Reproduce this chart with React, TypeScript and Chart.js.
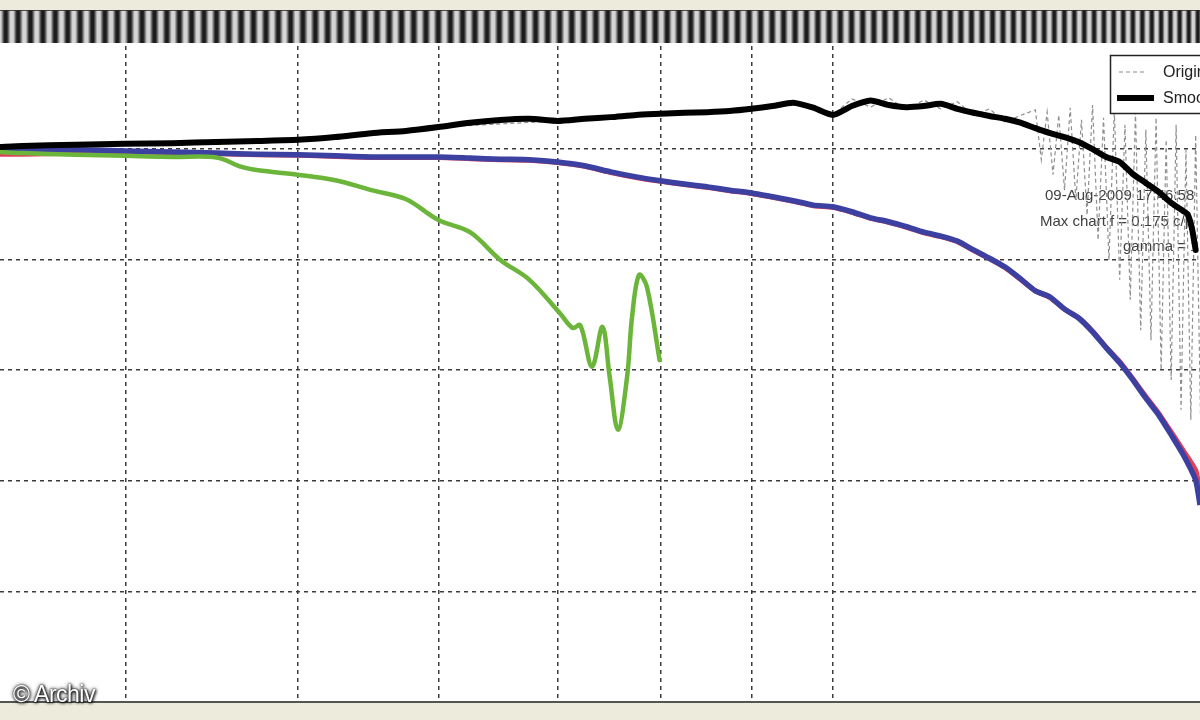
import React, { useEffect, useRef } from "react";
import { Chart, registerables } from "chart.js";

Chart.register(...registerables);

// ---- axis grid values ----
const gridFreqs = [0.04, 0.05, 0.06, 0.07, 0.08, 0.09, 0.1];
const mtfMin = 0;
const mtfMax = 1.2;
const mtfStep = 0.2;
const freqMin = 0.034;
const freqMax = 0.1609;

// ---- Smoothed (black) ----
const smoothedFreq = [
  0.034, 0.035, 0.0375, 0.04, 0.0425, 0.045, 0.0475, 0.05, 0.0525, 0.055, 0.0575, 0.06,
  0.0625, 0.065, 0.0675, 0.07, 0.0725, 0.075, 0.0775, 0.08, 0.0825, 0.085, 0.0875, 0.09,
  0.0925, 0.095, 0.0975, 0.1, 0.1025, 0.105, 0.1075, 0.11, 0.1125, 0.115, 0.1175, 0.12,
  0.1225, 0.125, 0.1275, 0.13, 0.1325, 0.135, 0.1375, 0.14, 0.1425, 0.145, 0.1475, 0.15,
  0.1525, 0.155, 0.1575, 0.1583, 0.1592, 0.16,
];
const smoothedValues = [
  1.003, 1.005, 1.007, 1.009, 1.010, 1.012, 1.014, 1.016, 1.021, 1.028, 1.032, 1.039,
  1.047, 1.052, 1.054, 1.050, 1.054, 1.057, 1.061, 1.063, 1.065, 1.066, 1.068, 1.072,
  1.077, 1.083, 1.074, 1.061, 1.077, 1.087, 1.079, 1.075, 1.077, 1.081, 1.072, 1.065,
  1.059, 1.054, 1.047, 1.037, 1.028, 1.021, 1.012, 0.999, 0.985, 0.976, 0.954, 0.938,
  0.922, 0.902, 0.887, 0.882, 0.857, 0.817,
];

// ---- Blue / red channel curves ----
const channelFreq = [
  0.034, 0.035, 0.0375, 0.04, 0.0425, 0.045, 0.0475, 0.05, 0.0525, 0.055, 0.0575, 0.06,
  0.0625, 0.065, 0.0675, 0.07, 0.0725, 0.075, 0.0775, 0.08, 0.0825, 0.085, 0.0875, 0.09,
  0.0925, 0.095, 0.0975, 0.1, 0.1025, 0.105, 0.1075, 0.11, 0.1125, 0.115, 0.1175, 0.12,
  0.1225, 0.125, 0.1275, 0.13, 0.1325, 0.135, 0.1375, 0.14, 0.1425, 0.145, 0.1475, 0.15,
  0.1525, 0.155, 0.1575, 0.16, 0.1609,
];
const blueValues = [
  0.998, 0.998, 0.998, 0.996, 0.994, 0.992, 0.990, 0.989, 0.987, 0.985, 0.985, 0.985,
  0.983, 0.981, 0.980, 0.976, 0.969, 0.958, 0.949, 0.942, 0.936, 0.931, 0.925, 0.920,
  0.913, 0.906, 0.898, 0.895, 0.886, 0.875, 0.868, 0.859, 0.849, 0.842, 0.833, 0.817,
  0.802, 0.786, 0.765, 0.743, 0.732, 0.710, 0.694, 0.669, 0.640, 0.613, 0.582, 0.549,
  0.519, 0.483, 0.446, 0.401, 0.356,
];
const redValues = [
  0.990, 0.990, 0.992, 0.994, 0.993, 0.991, 0.989, 0.988, 0.986, 0.984, 0.984, 0.984,
  0.982, 0.980, 0.979, 0.975, 0.968, 0.957, 0.948, 0.941, 0.935, 0.930, 0.924, 0.919,
  0.912, 0.905, 0.897, 0.894, 0.885, 0.874, 0.867, 0.858, 0.848, 0.841, 0.832, 0.816,
  0.801, 0.785, 0.764, 0.743, 0.731, 0.710, 0.694, 0.670, 0.641, 0.615, 0.584, 0.552,
  0.522, 0.488, 0.454, 0.419, 0.380,
];

// ---- Green curve ----
const greenFreq = [
  0.034, 0.035, 0.0375, 0.04, 0.0425, 0.045, 0.0465, 0.0475, 0.05, 0.0525, 0.055, 0.0575,
  0.06, 0.0625, 0.065, 0.0675, 0.0702, 0.0714, 0.0721, 0.0732, 0.0742, 0.0749, 0.0757,
  0.0766, 0.0771, 0.0778, 0.0786, 0.0799,
];
const greenValues = [
  0.994, 0.992, 0.989, 0.987, 0.985, 0.984, 0.967, 0.961, 0.953, 0.943, 0.925, 0.909,
  0.871, 0.849, 0.799, 0.763, 0.703, 0.676, 0.681, 0.606, 0.678, 0.587, 0.492,
  0.587, 0.696, 0.772, 0.750, 0.618,
];

// ---- Original (grey dashed) ----
const originalFreq = [
  0.034, 0.04, 0.05, 0.06, 0.07, 0.08, 0.09, 0.095, 0.1, 0.1025, 0.105, 0.1075, 0.11,
  0.1125, 0.115, 0.1175, 0.12, 0.1225, 0.125, 0.1275, 0.13, 0.131, 0.132, 0.133, 0.134,
  0.135, 0.136, 0.137, 0.138, 0.139, 0.14, 0.141, 0.142, 0.143, 0.144, 0.145, 0.146,
  0.147, 0.148, 0.149, 0.15, 0.151, 0.152, 0.153, 0.154, 0.155, 0.156, 0.157, 0.158,
  0.159, 0.16, 0.161,
];
const originalValues = [
  1.003, 1.009, 1.016, 1.039, 1.050, 1.063, 1.072, 1.083, 1.061, 1.090, 1.075, 1.092, 1.070,
  1.088, 1.072, 1.085, 1.060, 1.072, 1.048, 1.060, 1.070, 0.980, 1.066, 0.953, 1.061,
  0.925, 1.074, 0.907, 1.052, 0.880, 1.079, 0.835, 1.056, 0.799, 1.070, 0.763, 1.043,
  0.727, 1.066, 0.672, 1.034, 0.654, 1.056, 0.600, 1.016, 0.582, 1.043, 0.528, 0.998,
  0.510, 1.025, 0.519,
];

const legendLabels = ["Original", "Smoothed"];
const annotationLines = ["09-Aug-2009 17:46:58", "Max chart f = 0.175 c/p", "gamma = 1"];
const watermark = "© Archiv";

const pts = (xs: number[], ys: number[]) => xs.map((x, i) => ({ x, y: ys[i] }));

export default function App() {
  const ref = useRef<HTMLCanvasElement>(null);

  useEffect(() => {
    const canvas = ref.current;
    if (!canvas) return;

    const decor = {
      id: "decor",
      beforeDraw(chart: any) {
        const { ctx, width, height, chartArea } = chart;
        ctx.save();
        ctx.fillStyle = "#edebdb";
        ctx.fillRect(0, 0, width, height);
        ctx.fillStyle = "#ffffff";
        ctx.fillRect(chartArea.left, chartArea.top, chartArea.right - chartArea.left, chartArea.bottom - chartArea.top);
        ctx.restore();
      },
      beforeDatasetsDraw(chart: any) {
        const { ctx } = chart;
        ctx.save();
        ctx.font = '15px "Liberation Sans", Arial, sans-serif';
        ctx.fillStyle = "#404040";
        ctx.textBaseline = "middle";
        ctx.textAlign = "left";
        ctx.fillText(annotationLines[0], 1045, 196);
        ctx.fillText(annotationLines[1], 1040, 222);
        ctx.fillText(annotationLines[2], 1123, 247);
        ctx.restore();
      },
      afterDatasetsDraw(chart: any) {
        const { ctx } = chart;
        ctx.save();
        ctx.fillStyle = "#ffffff";
        ctx.fillRect(1110, 55, 160, 59);
        ctx.strokeStyle = "#222";
        ctx.lineWidth = 1.5;
        ctx.strokeRect(1110.5, 55.5, 160, 58);
        ctx.strokeStyle = "#8a8a8a";
        ctx.lineWidth = 1.2;
        ctx.setLineDash([4, 3]);
        ctx.beginPath();
        ctx.moveTo(1119, 72);
        ctx.lineTo(1147, 72);
        ctx.stroke();
        ctx.setLineDash([]);
        ctx.strokeStyle = "#000";
        ctx.lineWidth = 6;
        ctx.beginPath();
        ctx.moveTo(1117, 98);
        ctx.lineTo(1154, 98);
        ctx.stroke();
        ctx.font = '16px "Liberation Sans", Arial, sans-serif';
        ctx.fillStyle = "#222";
        ctx.textBaseline = "middle";
        ctx.fillText(legendLabels[0], 1163, 73);
        ctx.fillText(legendLabels[1], 1163, 99);
        ctx.restore();
      },
      afterDraw(chart: any) {
        const { ctx, width } = chart;
        ctx.save();
        let phase = 0;
        for (let x = 0; x < width; x++) {
          const t = x / width;
          const period = 12.4 - 3.4 * t * t * t;
          phase += (2 * Math.PI) / period;
          const c = Math.min(1, Math.max(0, 0.52 + 0.6 * Math.cos(phase)));
          const g = Math.round(28 + 185 * c);
          ctx.fillStyle = `rgb(${g},${g},${g})`;
          ctx.fillRect(x, 10, 1, 33);
        }
        ctx.fillStyle = "rgba(40,40,40,0.8)";
        ctx.fillRect(0, 10, width, 1);
        ctx.restore();
      },
    };

    const gridCommon = { color: "#3c3c3c", lineWidth: 1.5, drawTicks: false };

    const chart = new Chart(canvas, {
      type: "line",
      data: {
        datasets: [
          {
            label: legendLabels[0],
            data: pts(originalFreq, originalValues),
            borderColor: "#8f8f8f",
            borderWidth: 1.2,
            borderDash: [4, 3],
            pointRadius: 0,
            tension: 0,
            order: 5,
          },
          {
            label: legendLabels[1],
            data: pts(smoothedFreq, smoothedValues),
            borderColor: "#000000",
            borderWidth: 6,
            pointRadius: 0,
            tension: 0.2,
            borderJoinStyle: "round",
            borderCapStyle: "round",
            order: 1,
          },
          {
            label: "Red",
            data: pts(channelFreq, redValues),
            borderColor: "#e0405a",
            borderWidth: 5,
            pointRadius: 0,
            tension: 0.2,
            borderJoinStyle: "round",
            order: 4,
          },
          {
            label: "Blue",
            data: pts(channelFreq, blueValues),
            borderColor: "#3c40a0",
            borderWidth: 5.5,
            pointRadius: 0,
            tension: 0.2,
            borderJoinStyle: "round",
            order: 3,
          },
          {
            label: "Green",
            data: pts(greenFreq, greenValues),
            borderColor: "#6bb53a",
            borderWidth: 4.5,
            pointRadius: 0,
            tension: 0.35,
            borderJoinStyle: "round",
            borderCapStyle: "round",
            order: 2,
          },
        ],
      },
      options: {
        responsive: false,
        animation: false,
        devicePixelRatio: 1,
        layout: { padding: { top: 38, bottom: 18, left: 0, right: 0 } },
        plugins: { legend: { display: false }, tooltip: { enabled: false } },
        scales: {
          x: {
            type: "logarithmic",
            min: freqMin,
            max: freqMax,
            afterBuildTicks: (scale: any) => {
              scale.ticks = gridFreqs.map((v) => ({ value: v }));
            },
            ticks: { display: false },
            grid: gridCommon,
            border: { display: true, color: "#555", width: 2, dash: [4, 4] },
          },
          y: {
            type: "linear",
            min: mtfMin,
            max: mtfMax,
            ticks: { display: false, stepSize: mtfStep },
            grid: gridCommon,
            border: { display: false, dash: [4, 4] },
          },
        },
      },
      plugins: [decor],
    } as any);

    return () => chart.destroy();
  }, []);

  return (
    <div
      style={{
        position: "fixed",
        left: 0,
        top: 0,
        width: 1200,
        height: 720,
        overflow: "hidden",
        background: "#edebdb",
      }}
    >
      <canvas ref={ref} width={1200} height={720} style={{ display: "block" }} />
      <div
        style={{
          position: "absolute",
          left: 13,
          top: 681,
          fontFamily: '"Liberation Sans", Arial, sans-serif',
          fontSize: 23,
          color: "#ffffff",
          textShadow: "0 0 2px #000, 0 0 4px #000, 1px 1px 3px #000",
          lineHeight: "26px",
          letterSpacing: "-0.5px",
        }}
      >
        {watermark}
      </div>
    </div>
  );
}
